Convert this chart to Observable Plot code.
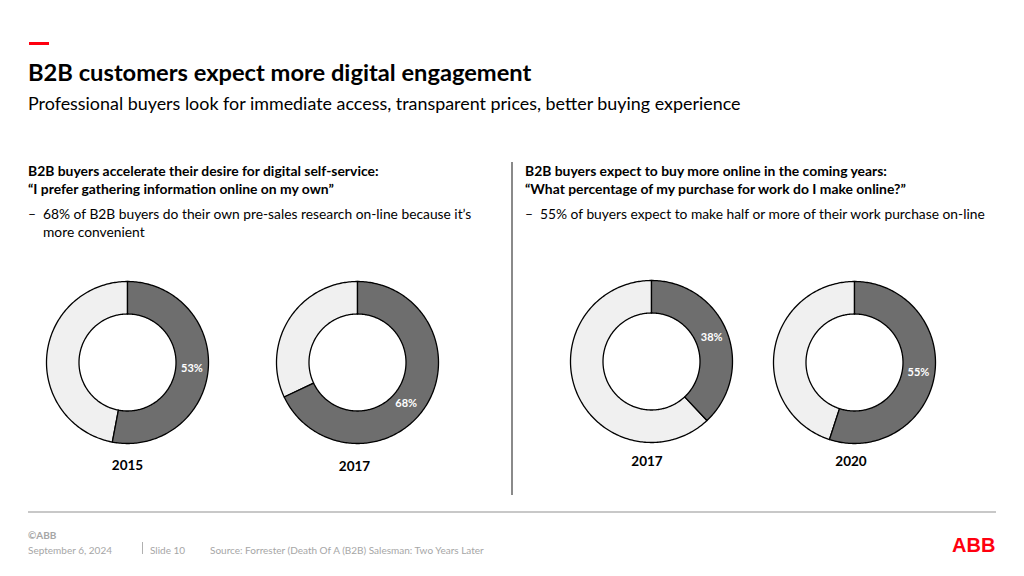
<!DOCTYPE html>
<html>
<head>
<meta charset="utf-8">
<script src="https://cdn.jsdelivr.net/npm/d3@7"></script>
<script src="https://cdn.jsdelivr.net/npm/@observablehq/plot@0.6"></script>
<style>
  html, body { margin:0; padding:0; background:#fff; }
  body { width:1024px; height:576px; position:relative; overflow:hidden; font-family: Lato, "Noto Sans", sans-serif; color:#000; }
  .abs { position:absolute; white-space:nowrap; }
  #dash { left:29px; top:42px; width:20px; height:3px; background:#ff000f; }
  #title { left:28px; top:58px; font-size:23.7px; font-weight:700; line-height:28px; }
  #subtitle { left:28px; top:91px; font-size:17.9px; line-height:24px; }
  .head { font-size:13.9px; font-weight:700; line-height:18px; }
  .bullet { font-size:13.8px; line-height:18px; }
  .bullet .d { position:absolute; left:0; }
  .bullet .t { position:absolute; left:15px; }
  #vline { left:511px; top:162px; width:2px; height:333px; background:#8a8a8a; }
  #hline { left:28px; top:511px; width:968px; height:1.5px; background:#c8c8c8; }
  .foot { color:#a6a6a6; font-size:10px; line-height:12px; }
  #logo { left:952px; top:534px; color:#ff000f; font-weight:900; font-size:20px; line-height:22px; font-family:"Liberation Sans", Arial, sans-serif; }
  .donut { position:absolute; }
</style>
</head>
<body>
<div class="abs" id="dash"></div>
<div class="abs" id="title">B2B customers expect more digital engagement</div>
<div class="abs" id="subtitle">Professional buyers look for immediate access, transparent prices, better buying experience</div>

<div class="abs head" style="left:28px; top:162px;">B2B buyers accelerate their desire for digital self-service:<br>“I prefer gathering information online on my own”</div>
<div class="abs bullet" style="left:28px; top:205px; width:470px; height:40px;"><span class="d">–</span><span class="t">68% of B2B buyers do their own pre-sales research on-line because it’s<br>more convenient</span></div>

<div class="abs" id="vline"></div>

<div class="abs head" style="left:525px; top:162px;">B2B buyers expect to buy more online in the coming years:<br>“What percentage of my purchase for work do I make online?”</div>
<div class="abs bullet" style="left:525px; top:205px; width:480px; height:20px;"><span class="d">–</span><span class="t">55% of buyers expect to make half or more of their work purchase on-line</span></div>

<div class="abs" id="hline"></div>
<div class="abs foot" style="left:28px; top:529px; font-weight:700;">©ABB</div>
<div class="abs foot" style="left:28px; top:544px;">September 6, 2024</div>
<div class="abs" style="left:142px; top:542px; width:1px; height:12px; background:#b0b0b0;"></div>
<div class="abs foot" style="left:150px; top:544px;">Slide 10</div>
<div class="abs foot" style="left:210px; top:544px;">Source: Forrester (Death Of A (B2B) Salesman: Two Years Later</div>
<div class="abs" id="logo">ABB</div>

<div id="charts"></div>

<script>
// ---- data ----
const years = ["2015", "2017", "2017", "2020"];
const shares = [53, 68, 38, 55];   // % online (dark segment)
const labels = ["53%", "68%", "38%", "55%"];

// ---- layout (pixels) ----
const centers = [[127, 361.5], [357, 362], [650.5, 361], [853.5, 361.5]];
const yearOffsets = [[0, 103], [-3, 104], [-4.5, 100], [-3.5, 99.5]];
const labelNudge = [[0, 0], [-6, 6], [0, 0], [0, 0]];
const R_OUT = 81, R_IN = 48.5;
const W = 200, H = 220, TOP = 91;

function ring(from, to, seg) {
  // polygon points of an annulus sector, fractions of a full turn, clockwise from 12 o'clock
  const pts = [];
  const n = Math.max(2, Math.ceil((to - from) * 360));
  for (let i = 0; i <= n; i++) {
    const a = 2 * Math.PI * (from + (to - from) * i / n);
    pts.push({seg, x: R_OUT * Math.sin(a), y: R_OUT * Math.cos(a)});
  }
  for (let i = n; i >= 0; i--) {
    const a = 2 * Math.PI * (from + (to - from) * i / n);
    pts.push({seg, x: R_IN * Math.sin(a), y: R_IN * Math.cos(a)});
  }
  return pts;
}

const container = document.getElementById("charts");
shares.forEach((v, i) => {
  const f = v / 100;
  const dark = ring(0, f, "online");
  const light = ring(f, 1, "other");
  const mid = 2 * Math.PI * f / 2;
  const rm = (R_OUT + R_IN) / 2;
  const lab = [{x: rm * Math.sin(mid) + labelNudge[i][0], y: rm * Math.cos(mid) - labelNudge[i][1], text: labels[i]}];
  const yr = [{x: yearOffsets[i][0], y: -yearOffsets[i][1], text: years[i]}];
  const chart = Plot.plot({
    width: W, height: H, margin: 0,
    style: {background: "transparent", fontFamily: "Lato, 'Noto Sans', sans-serif", overflow: "visible"},
    x: {domain: [-W / 2, W / 2], axis: null},
    y: {domain: [-(H - TOP), TOP], axis: null},
    marks: [
      Plot.line(light, {x: "x", y: "y", fill: "#f0f0f0", stroke: "#000", strokeWidth: 1.3, curve: "linear-closed"}),
      Plot.line(dark, {x: "x", y: "y", fill: "#6e6e6e", stroke: "#000", strokeWidth: 1.3, curve: "linear-closed"}),
      Plot.text(lab, {x: "x", y: "y", text: "text", fill: "#fff", fontSize: 11, fontWeight: 700}),
      Plot.text(yr, {x: "x", y: "y", text: "text", fill: "#000", fontSize: 13.5, fontWeight: 700})
    ]
  });
  chart.classList.add("donut");
  chart.style.left = (centers[i][0] - W / 2) + "px";
  chart.style.top = (centers[i][1] - TOP) + "px";
  container.appendChild(chart);
});
</script>
</body>
</html>
